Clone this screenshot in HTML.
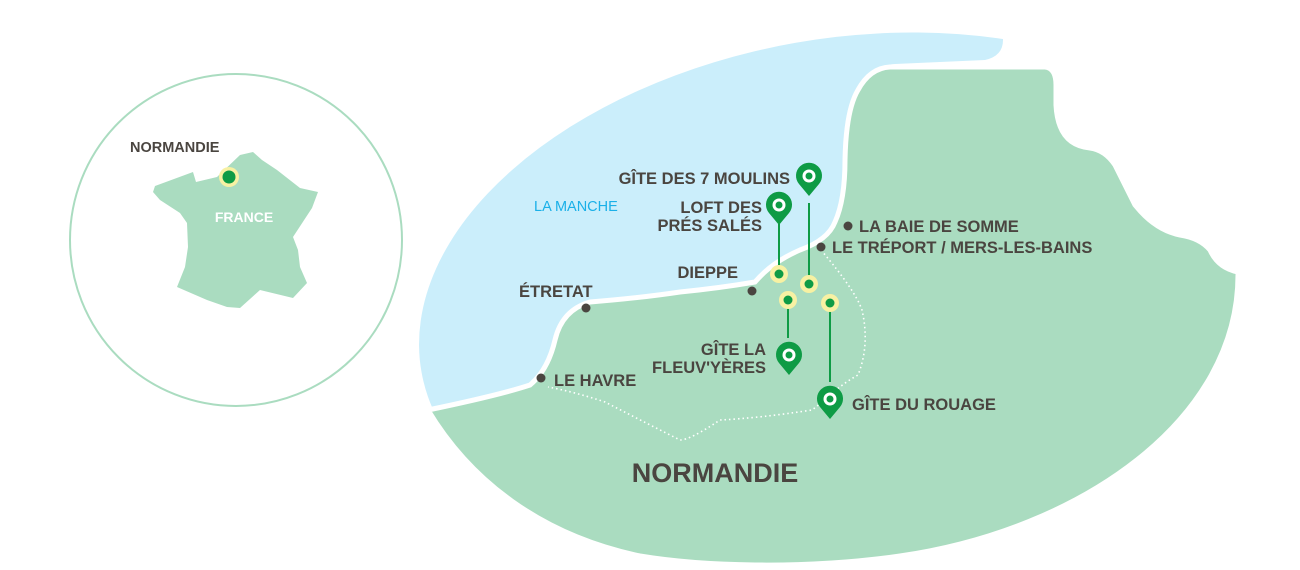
<!DOCTYPE html>
<html><head><meta charset="utf-8"><style>
html,body{margin:0;padding:0;background:#fff;}
svg{display:block;}
text{font-family:"Liberation Sans",sans-serif;font-weight:bold;fill:#4a4540;}
</style></head><body>
<svg width="1300" height="570" viewBox="0 0 1300 570" xmlns="http://www.w3.org/2000/svg">
<defs>
<symbol id="pin" viewBox="-14 -14 28 36" overflow="visible">
<path d="M0,20 L-10,8 A13,13 0 1 1 10,8 Z" fill="#0e9b45"/>
<circle cx="0" cy="0" r="6.5" fill="#fff"/>
<circle cx="0" cy="0" r="3.5" fill="#0e9b45"/>
</symbol>
<clipPath id="ell"><ellipse cx="840" cy="298" rx="425" ry="259" transform="rotate(-10 840 298)"/></clipPath>
</defs>
<!-- left circle -->
<circle cx="236" cy="240" r="166" fill="none" stroke="#aadcc0" stroke-width="2"/>
<polygon fill="#aadcc0" points="155,186 193,172 196,182 217,177 240,155 253,152 262,160 277,170 300,188 318,192 312,208 293,237 298,250 300,267 307,283 293,298 260,290 240,308 227,307 207,300 177,287 185,267 188,247 187,223 180,213 160,200 153,192"/>
<text x="130" y="152" font-size="14.5">NORMANDIE</text>
<circle cx="229" cy="177" r="10" fill="#f7f1a3"/>
<circle cx="229" cy="177" r="6.5" fill="#0e9b45"/>
<text x="244" y="222" font-size="14" text-anchor="middle" style="fill:#fff">FRANCE</text>
<!-- main map -->
<g clip-path="url(#ell)">
<path d="M400,420 L420,410 Q500,395 530,385 Q548,370 555,340 Q562,310 590,302 Q640,298 680,292 Q720,288 755,282 Q772,262 800,250 Q828,240 835,222 Q845,200 845,160 Q846,110 858,90 Q868,66 895,64 L985,60 Q1003,56 1003,40 L1003,0 L400,0 Z" fill="#cbeefb"/>
</g>
<path d="M428,410 Q500,395 530,385 Q548,370 555,340 Q562,310 590,302 Q640,298 680,292 Q720,288 755,282 Q772,262 800,250 Q828,240 835,222 Q845,200 845,160 Q846,110 858,90 Q870,68 890,67 L1045,67 Q1056,68 1056,85 L1056,105 Q1058,145 1090,148 Q1105,150 1115,165 Q1125,185 1135,205 Q1155,230 1180,235 Q1200,238 1210,250 Q1218,268 1238,272 C1240,420 1080,530 900,556 C800,570 700,566 640,556 C540,535 470,480 428,410 Z" fill="#aadcc0" stroke="#fff" stroke-width="5"/>
<!-- dotted route -->
<path d="M821,250 Q855,290 862,310 Q870,345 858,375 Q840,385 825,400 L812,410 Q760,418 720,420 Q690,440 680,440 Q640,420 605,402 Q575,392 548,387" fill="none" stroke="#fff" stroke-width="1.6" stroke-dasharray="1.5 3"/>
<!-- connector lines -->
<g stroke="#0e9b45" stroke-width="2">
<line x1="779" y1="224" x2="779" y2="273"/>
<line x1="809" y1="203" x2="809" y2="284"/>
<line x1="788" y1="300" x2="788" y2="338"/>
<line x1="830" y1="303" x2="830" y2="382"/>
</g>
<g>
<circle cx="779" cy="274" r="9" fill="#f7f1a3"/><circle cx="779" cy="274" r="4.5" fill="#0e9b45"/>
<circle cx="809" cy="284" r="9" fill="#f7f1a3"/><circle cx="809" cy="284" r="4.5" fill="#0e9b45"/>
<circle cx="788" cy="300" r="9" fill="#f7f1a3"/><circle cx="788" cy="300" r="4.5" fill="#0e9b45"/>
<circle cx="830" cy="303" r="9" fill="#f7f1a3"/><circle cx="830" cy="303" r="4.5" fill="#0e9b45"/>
</g>
<use href="#pin" x="795" y="162" width="28" height="36"/>
<use href="#pin" x="765" y="191" width="28" height="36"/>
<use href="#pin" x="775" y="341" width="28" height="36"/>
<use href="#pin" x="816" y="385" width="28" height="36"/>
<!-- city dots -->
<g fill="#4a4540">
<circle cx="848" cy="226" r="4.5"/><circle cx="821" cy="247" r="4.5"/>
<circle cx="752" cy="291" r="4.5"/><circle cx="586" cy="308" r="4.5"/>
<circle cx="541" cy="378" r="4.5"/>
</g>
<g font-size="16.5">
<text x="790" y="184" text-anchor="end">GÎTE DES 7 MOULINS</text>
<text x="762" y="213" text-anchor="end">LOFT DES</text>
<text x="762" y="231" text-anchor="end">PRÉS SALÉS</text>
<text x="859" y="232">LA BAIE DE SOMME</text>
<text x="832" y="253">LE TRÉPORT / MERS-LES-BAINS</text>
<text x="738" y="278" text-anchor="end">DIEPPE</text>
<text x="519" y="297">ÉTRETAT</text>
<text x="554" y="386">LE HAVRE</text>
<text x="766" y="355" text-anchor="end">GÎTE LA</text>
<text x="766" y="373" text-anchor="end">FLEUV'YÈRES</text>
<text x="852" y="410">GÎTE DU ROUAGE</text>
<text x="534" y="211" font-size="14.5" style="fill:#1ab0e8;font-weight:normal">LA MANCHE</text>
</g>
<text x="715" y="482" font-size="27" text-anchor="middle">NORMANDIE</text>
</svg>
</body></html>
